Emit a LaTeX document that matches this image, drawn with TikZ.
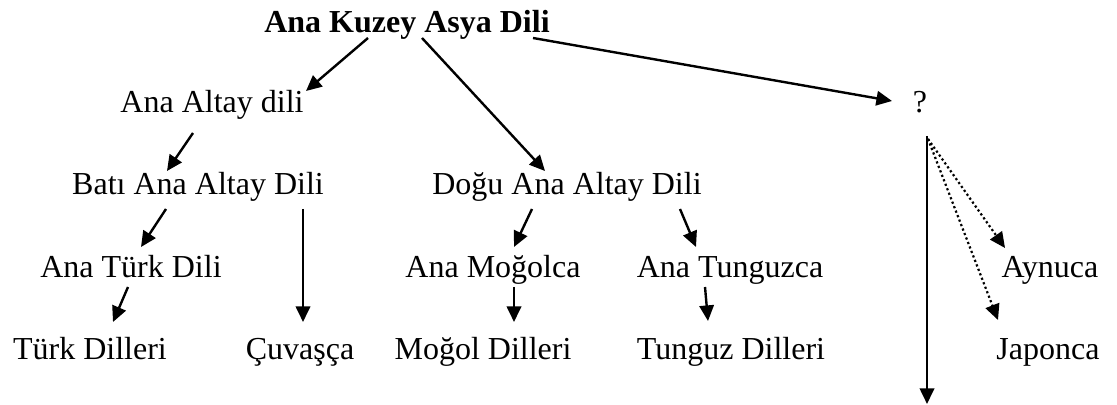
\documentclass[tikz,border=0pt]{standalone}
\usepackage{fontspec}
\setmainfont{Liberation Serif}
\usetikzlibrary{arrows.meta,calc}

\begin{document}
\begin{tikzpicture}[x=0.5pt, y=-0.5pt, >={Triangle[length=7.8pt,width=7.2pt]}]
\tikzstyle{every node}=[anchor=base, inner sep=0pt, font=\fontsize{16}{19}\selectfont];
\tikzstyle{arr}=[->, line width=1.2pt];
\tikzstyle{tah}=[->, line width=1.1pt, dash pattern=on 1.1pt off 1.3pt];
\useasboundingbox (0,0) rectangle (1117,405);
% dil agaci
\node (kuzey) at (407, 33) {\textbf{Ana Kuzey Asya Dili}};
\node (altay) at (212, 113) {Ana Altay dili};
\node (soru) at (920, 113) {?};
\node (bati) at (198, 195) {Batı Ana Altay Dili};
\node (dogu) at (567, 195) {Doğu Ana Altay Dili};
\node (turk) at (131, 278) {Ana Türk Dili};
\node (mogolca) at (493, 278) {Ana Moğolca};
\node (tunguzca) at (730, 278) {Ana Tunguzca};
\node (aynuca) at (1050, 278) {Aynuca};
\node (turkd) at (90, 359) {Türk Dilleri};
\node (cuvasca) at (300, 359) {Çuvaşça};
\node (mogold) at (483, 359) {Moğol Dilleri};
\node (tunguzd) at (731, 359) {Tunguz Dilleri};
\node (japonca) at (1048, 359) {Japonca};
\coordinate (alt) at (927, 404);
\draw[arr] ($(kuzey.base)+(-39,5)$) -- ($(altay.base)+(94,-22)$);
\draw[arr] ($(kuzey.base)+(15,5)$) -- ($(dogu.base)+(-22,-24)$);
\draw[arr] ($(kuzey.base)+(126,5)$) -- ($(soru.base)+(-28,-12)$);
\draw[arr] ($(altay.base)+(-19,20)$) -- ($(bati.base)+(-31,-24)$);
\draw[arr] ($(bati.base)+(-32,14)$) -- ($(turk.base)+(10,-31)$);
\draw[arr] ($(bati.base)+(105,14)$) -- ($(cuvasca.base)+(3,-37)$);
\draw[arr] ($(turk.base)+(-3,9)$) -- ($(turkd.base)+(23,-37)$);
\draw[arr] ($(dogu.base)+(-35,14)$) -- ($(mogolca.base)+(21,-31)$);
\draw[arr] ($(dogu.base)+(113,14)$) -- ($(tunguzca.base)+(-34,-31)$);
\draw[arr] ($(mogolca.base)+(21,9)$) -- ($(mogold.base)+(31,-37)$);
\draw[arr] ($(tunguzca.base)+(-25,9)$) -- ($(tunguzd.base)+(-23,-38)$);
\draw[arr] ($(soru.base)+(7,23)$) -- (alt);
\draw[tah] ($(soru.base)+(8,26)$) -- ($(aynuca.base)+(-45,-30)$);
\draw[tah] ($(soru.base)+(8,26)$) -- ($(japonca.base)+(-50,-39)$);
%\draw (soru) -- (aynuca);
\end{tikzpicture}
\end{document}
